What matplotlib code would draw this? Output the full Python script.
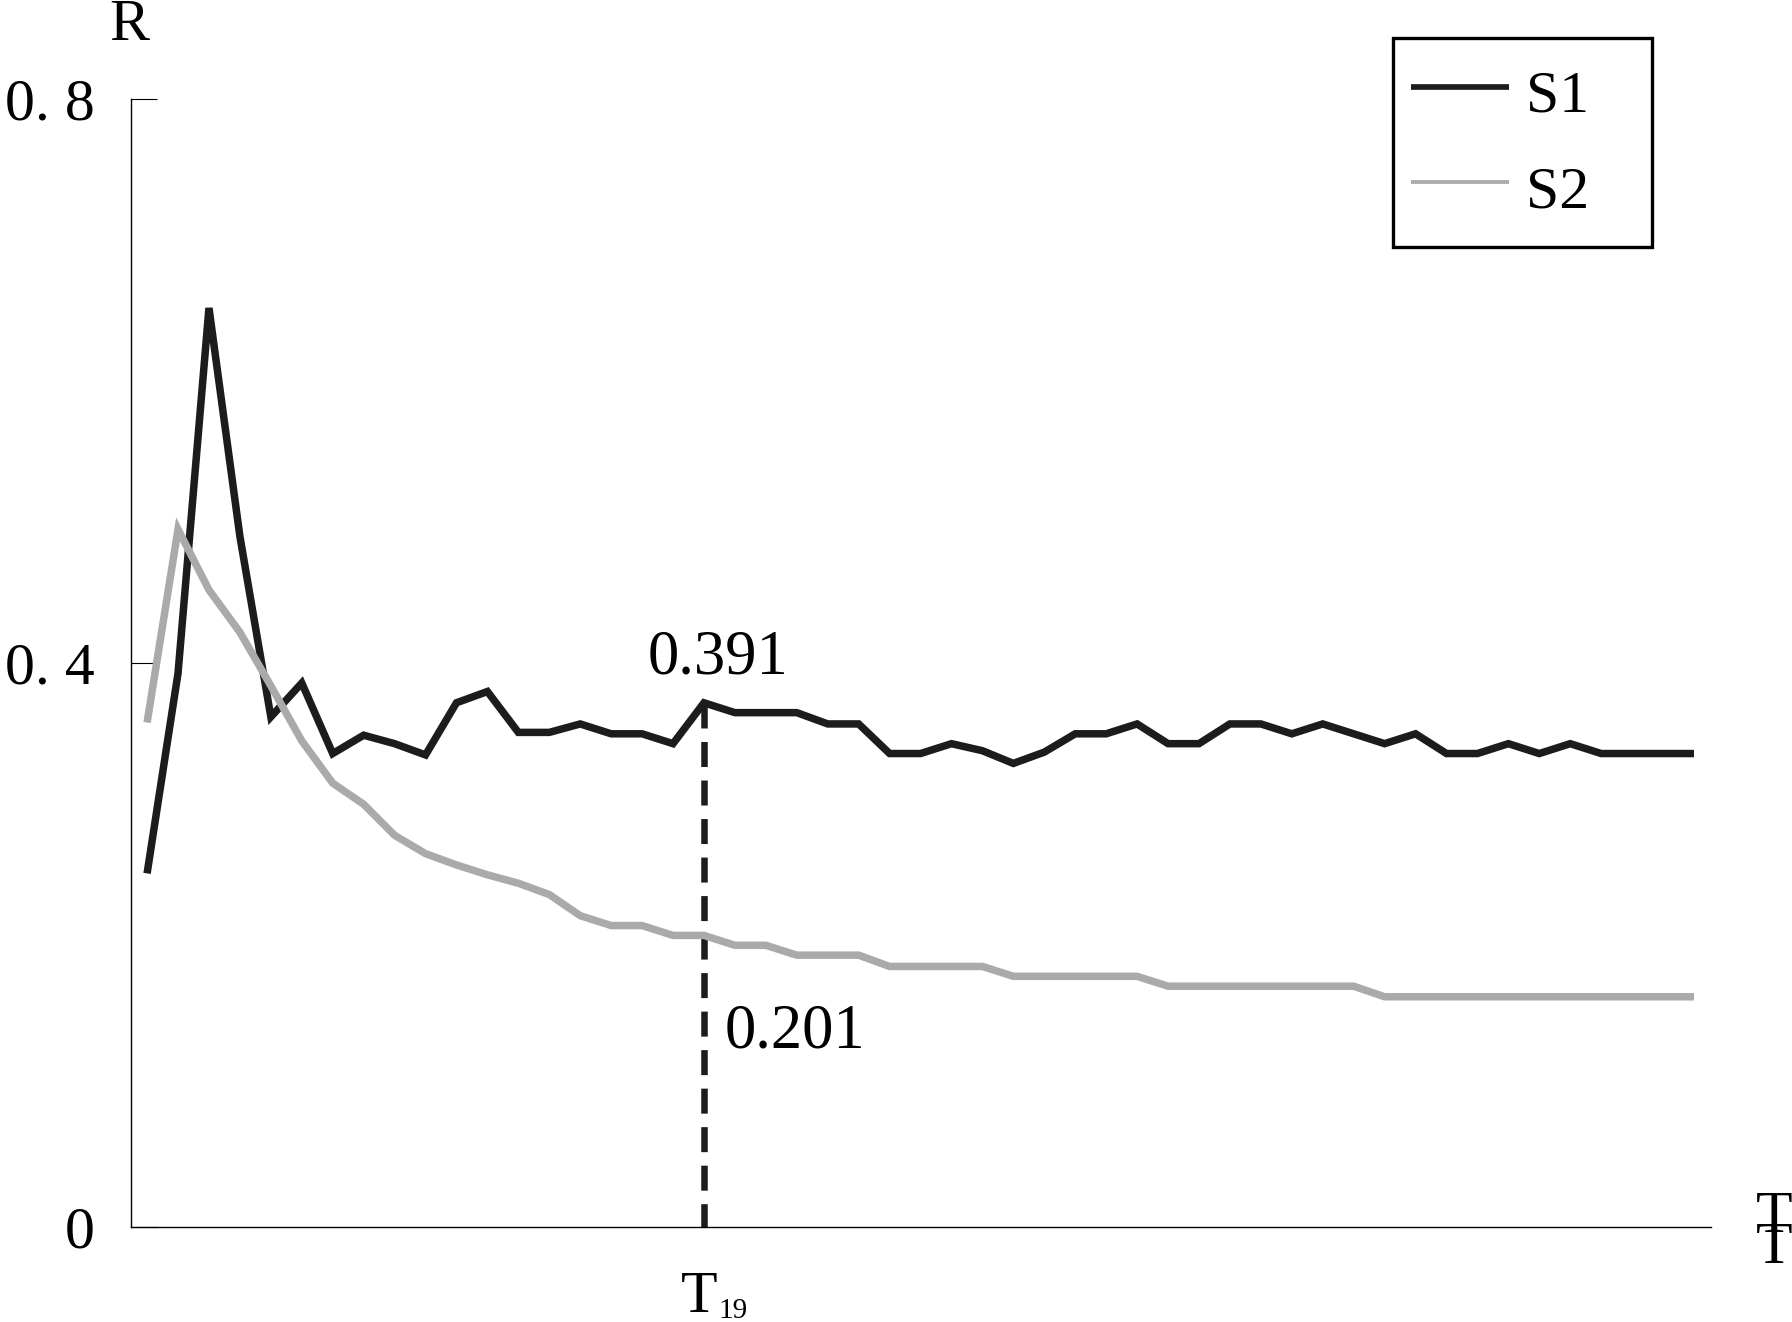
import numpy as np
import matplotlib
matplotlib.use("Agg")
import matplotlib.pyplot as plt
from matplotlib.lines import Line2D
from matplotlib.patches import Rectangle

# ---------------- data ----------------
t = np.arange(1, 52)
s1 = [0.251, 0.393, 0.652, 0.490, 0.362, 0.386, 0.336, 0.349, 0.343, 0.335,
      0.372, 0.380, 0.351, 0.351, 0.357, 0.350, 0.350, 0.343, 0.372, 0.365,
      0.365, 0.365, 0.357, 0.357, 0.336, 0.336, 0.343, 0.338, 0.329, 0.337,
      0.350, 0.350, 0.357, 0.343, 0.343, 0.357, 0.357, 0.350, 0.357, 0.350,
      0.343, 0.350, 0.336, 0.336, 0.343, 0.336, 0.343, 0.336, 0.336, 0.336,
      0.336]
s2 = [0.358, 0.495, 0.452, 0.422, 0.384, 0.345, 0.315, 0.300, 0.278, 0.265,
      0.257, 0.250, 0.244, 0.236, 0.221, 0.214, 0.214, 0.207, 0.207, 0.200,
      0.200, 0.193, 0.193, 0.193, 0.185, 0.185, 0.185, 0.185, 0.178, 0.178,
      0.178, 0.178, 0.178, 0.171, 0.171, 0.171, 0.171, 0.171, 0.171, 0.171,
      0.1635, 0.1635, 0.1635, 0.1635, 0.1635, 0.1635, 0.1635, 0.1635, 0.1635,
      0.1635, 0.1635]
series_names = ["S1", "S2"]
yticks = [0, 0.4, 0.8]
yticklabels = ["0", "0. 4", "0. 8"]
mark_t = 19
mark_labels = ["0.391", "0.201"]

# ---------------- figure ----------------
W, H = 1792, 1322
fig = plt.figure(figsize=(W / 100, H / 100), dpi=100)
plt.rcParams['font.family'] = ['Liberation Serif', 'DejaVu Serif']

def fx(px):
    return px / W

def fy(py):
    return 1 - py / H

ax = fig.add_axes([fx(131), fy(1227.3), fx(1711) - fx(131), fy(99.3) - fy(1227.3)])
ax.set_xlim(0.48, 51.55)
ax.set_ylim(0, 0.8)

c1 = "#1c1c1c"
c2 = "#aaaaaa"
lw = 5.4

ax.plot(t, s1, color=c1, lw=lw, solid_joinstyle='miter', solid_capstyle='butt', zorder=3)
ax.plot(t, s2, color=c2, lw=lw, solid_joinstyle='miter', solid_capstyle='butt', zorder=4)

# dashed marker line at T19
v19 = s1[mark_t - 1]
ax.plot([mark_t, mark_t], [v19, 0], color=c1, lw=4.7,
        linestyle=(0, (3.83, 2.07)), zorder=2)

# spines / ticks
for side in ["top", "right"]:
    ax.spines[side].set_visible(False)
for side in ["left", "bottom"]:
    ax.spines[side].set_linewidth(1.0)
    ax.spines[side].set_color("black")
ax.set_xticks([])
ax.set_yticks(yticks)
ax.set_yticklabels(yticklabels)
ax.tick_params(axis='y', direction='in', length=18.7, width=0.8, pad=26,
               labelsize=43, colors='black')

FS = 43

# axis labels
fig.text(fx(129), fy(40), "R", ha='center', va='baseline', fontsize=FS)
fig.text(fx(1774), fy(1232), "T", ha='center', va='baseline', fontsize=FS)
fig.text(fx(1774), fy(1263), "T", ha='center', va='baseline', fontsize=FS)

# T19 label
fig.text(fx(681), fy(1312), "T", ha='left', va='baseline', fontsize=FS)
fig.text(fx(718), fy(1318), "19", ha='left', va='baseline', fontsize=21)

# annotations
fig.text(fx(718), fy(674), mark_labels[0], ha='center', va='baseline', fontsize=FS + 2)
fig.text(fx(725), fy(1047), mark_labels[1], ha='left', va='baseline', fontsize=FS + 2)

# legend (manual)
fig.add_artist(Rectangle((fx(1393), fy(247)), fx(1652) - fx(1393), fy(38) - fy(247),
                         transform=fig.transFigure, fill=False, edgecolor='black',
                         linewidth=2.4))
fig.add_artist(Line2D([fx(1411), fx(1509)], [fy(86.7), fy(86.7)], color=c1, lw=4.1,
                      solid_capstyle='butt', transform=fig.transFigure))
fig.add_artist(Line2D([fx(1411), fx(1509)], [fy(182), fy(182)], color=c2, lw=2.7,
                      solid_capstyle='butt', transform=fig.transFigure))
fig.text(fx(1526), fy(112), series_names[0], ha='left', va='baseline', fontsize=FS)
fig.text(fx(1526), fy(208), series_names[1], ha='left', va='baseline', fontsize=FS)

fig.savefig("out.png", dpi=100)
